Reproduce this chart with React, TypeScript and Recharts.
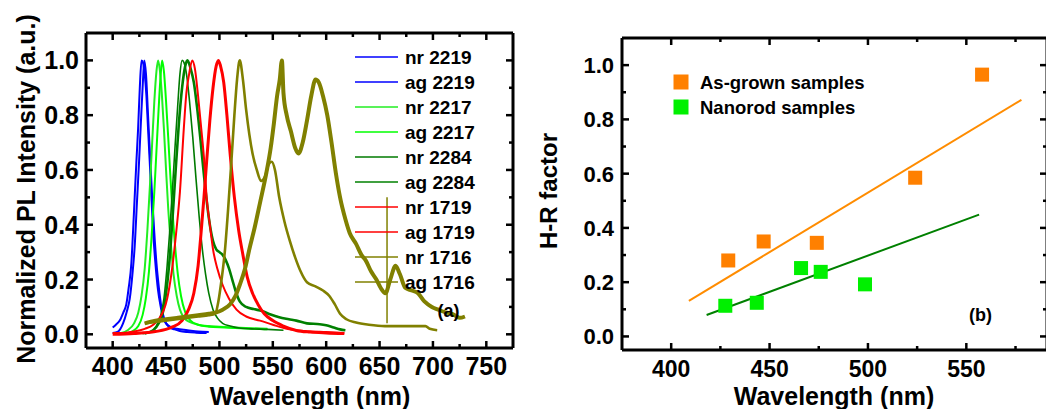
import React from 'react';
import {
  LineChart,
  Line,
  XAxis,
  YAxis,
  ReferenceLine,
  Legend,
  ComposedChart,
  Scatter,
} from 'recharts';

type Pt = [number, number];

// ---------- Panel (a): normalized PL spectra (wavelength nm, intensity) ----------
const nr2219: Pt[] = [
  [400, 0.025], [403, 0.035], [406.6, 0.05], [410, 0.08], [412.8, 0.11], [415, 0.17],
  [417.5, 0.26], [419, 0.37], [420.6, 0.5], [422.2, 0.63], [423.8, 0.75], [425.4, 0.9],
  [427, 1.0], [428.5, 0.99], [430, 0.95], [431.6, 0.87], [433, 0.76], [434.7, 0.63],
  [436.3, 0.5], [437.8, 0.38], [440, 0.26], [442.5, 0.16], [445, 0.1], [447.2, 0.06],
  [450, 0.04], [453.4, 0.025], [458, 0.018], [462.8, 0.012], [470, 0.008], [478, 0.006],
  [488, 0.005],
];
const ag2219: Pt[] = [
  [400, 0.005], [405, 0.01], [409.7, 0.04], [413, 0.08], [416, 0.13], [418.5, 0.22],
  [420.6, 0.32], [422.7, 0.48], [424.7, 0.63], [426.5, 0.78], [428.4, 0.93], [429.6, 1.0],
  [431.2, 0.95], [433, 0.81], [435, 0.65], [437, 0.5], [439, 0.37], [441, 0.26],
  [443.3, 0.17], [445.6, 0.1], [448, 0.06], [450, 0.04], [455, 0.025], [460, 0.02],
  [470, 0.015], [480, 0.01], [490, 0.008],
];
const nr2217: Pt[] = [
  [408, 0.005], [414, 0.015], [420, 0.04], [424, 0.08], [427, 0.14], [430, 0.24],
  [432.5, 0.38], [435, 0.55], [437, 0.7], [439, 0.85], [441, 0.96], [442.5, 1.0],
  [444, 0.97], [446, 0.88], [448, 0.75], [450, 0.6], [452, 0.46], [454.5, 0.33],
  [457, 0.22], [460, 0.14], [463, 0.09], [467, 0.06], [472, 0.045], [480, 0.035],
  [490, 0.03], [500, 0.028], [515, 0.025], [530, 0.022], [545, 0.02],
];
const ag2217: Pt[] = [
  [412, 0.002], [418, 0.01], [424, 0.03], [428, 0.07], [431, 0.13], [434, 0.23],
  [436.5, 0.36], [439, 0.52], [441, 0.67], [443, 0.82], [445, 0.95], [446.3, 1.0],
  [448, 0.96], [450, 0.85], [452, 0.72], [454, 0.58], [456, 0.45], [458.5, 0.32],
  [461, 0.22], [464, 0.14], [468, 0.08], [473, 0.05], [480, 0.035], [490, 0.028],
  [505, 0.025], [520, 0.022], [535, 0.02], [545, 0.018],
];
const nr2284: Pt[] = [
  [428, 0.002], [436, 0.01], [441, 0.03], [445, 0.07], [448, 0.13], [451, 0.25],
  [453.5, 0.38], [456, 0.53], [458.5, 0.69], [461, 0.84], [463, 0.95], [465, 1.0],
  [467, 0.99], [469.5, 0.94], [472, 0.85], [475, 0.72], [478, 0.57], [481, 0.43],
  [484, 0.31], [487, 0.22], [490, 0.15], [494, 0.09], [498, 0.06], [503, 0.04],
  [510, 0.03], [520, 0.022], [530, 0.02], [545, 0.018], [560, 0.015],
];
const ag2284: Pt[] = [
  [430, 0.003], [438, 0.015], [443, 0.04], [447, 0.08], [450, 0.15], [453, 0.26],
  [456, 0.42], [459, 0.6], [462, 0.77], [465, 0.9], [468, 0.98], [470, 1.0],
  [473, 0.97], [476, 0.92], [479, 0.83], [482, 0.72], [485, 0.6], [488, 0.49],
  [491, 0.4], [494, 0.34], [497, 0.31], [500, 0.3], [503, 0.29], [506, 0.27],
  [509, 0.24], [512, 0.2], [515, 0.16], [519, 0.12], [525, 0.1], [532, 0.092],
  [540, 0.085], [548, 0.072], [556, 0.062], [565, 0.055], [572, 0.05], [582, 0.04],
  [594, 0.037], [600, 0.033], [607, 0.025], [613, 0.018], [618, 0.015],
];
const nr1719: Pt[] = [
  [400, 0.005], [410, 0.005], [420, 0.01], [430, 0.02], [438, 0.035], [444, 0.06],
  [448, 0.09], [451, 0.13], [453, 0.17], [456, 0.25], [459.7, 0.38], [463, 0.52],
  [466.6, 0.75], [469, 0.88], [471.6, 0.95], [474.5, 1.0], [477, 0.97], [480, 0.87],
  [483, 0.75], [486, 0.62], [488, 0.5], [491, 0.4], [494, 0.31], [498, 0.24],
  [503, 0.18], [509, 0.13], [516, 0.09], [525, 0.065], [538, 0.05], [550, 0.035],
  [563, 0.02], [580, 0.012], [600, 0.008], [617, 0.005],
];
const ag1719: Pt[] = [
  [400, 0.0], [420, 0.003], [440, 0.01], [455, 0.025], [465, 0.05], [471, 0.09],
  [476, 0.15], [480, 0.25], [483, 0.38], [485.5, 0.5], [488, 0.63], [491, 0.78],
  [494, 0.9], [497, 0.98], [499, 1.0], [501, 0.98], [504, 0.92], [507, 0.8],
  [510, 0.66], [514, 0.5], [518, 0.38], [522, 0.29], [526, 0.21], [531, 0.15],
  [536, 0.11], [542, 0.075], [550, 0.05], [560, 0.03], [572, 0.014], [585, 0.008],
  [600, 0.005], [617, 0.003],
];
const nr1716: Pt[] = [
  [430, 0.04], [440, 0.045], [450, 0.05], [460, 0.055], [470, 0.06], [480, 0.065],
  [490, 0.07], [496, 0.075], [499, 0.12], [502, 0.2], [505, 0.3], [508, 0.45],
  [511, 0.62], [514, 0.8], [516.5, 0.93], [519, 1.0], [522, 0.93], [525, 0.82],
  [528, 0.73], [531, 0.66], [535, 0.6], [539, 0.56], [543, 0.58], [546, 0.62],
  [549, 0.63], [552, 0.6], [556, 0.5], [561, 0.41], [566, 0.34], [571, 0.28],
  [576, 0.23], [582, 0.19], [590, 0.175], [597, 0.16], [603, 0.14], [608, 0.11],
  [613, 0.075], [619, 0.055], [628, 0.043], [640, 0.035], [655, 0.03], [670, 0.03],
  [685, 0.03], [693, 0.03], [697, 0.02], [704, 0.015],
];
const ag1716: Pt[] = [
  [430, 0.04], [440, 0.05], [450, 0.055], [460, 0.06], [470, 0.065], [480, 0.07],
  [490, 0.075], [497, 0.08], [503, 0.09], [510, 0.11], [515, 0.14], [519, 0.18],
  [524, 0.24], [528, 0.31], [533, 0.39], [538, 0.48], [544, 0.59], [548, 0.68],
  [551, 0.77], [554, 0.87], [556.5, 0.93], [558.5, 1.0], [560, 0.88], [563, 0.8],
  [567, 0.74], [571, 0.68], [574, 0.66], [578, 0.7], [582, 0.78], [586, 0.87],
  [590, 0.93], [593, 0.92], [597, 0.87], [601, 0.8], [605, 0.7], [609, 0.59],
  [613, 0.5], [618, 0.42], [622, 0.37], [628, 0.33], [633, 0.29], [637, 0.27],
  [642, 0.23], [647, 0.2], [651, 0.17], [655.5, 0.15], [660, 0.2], [665, 0.25],
  [669, 0.22], [674, 0.17], [680, 0.16], [686, 0.15], [692, 0.12], [699, 0.1],
  [705, 0.09], [712, 0.08], [718, 0.075], [725, 0.06], [730, 0.065],
];
// vertical olive artifact line
const artifactSegment: Pt[] = [[657, 0.5], [657, 0.04]];

const specXTicks = [400, 425, 450, 475, 500, 525, 550, 575, 600, 625, 650, 675, 700, 725, 750];
const specYTicks = [0, 0.1, 0.2, 0.3, 0.4, 0.5, 0.6, 0.7, 0.8, 0.9, 1.0];

// ---------- Panel (b): H-R factor ----------
const asGrownWl = [429, 447, 474, 524, 558];
const asGrownHR = [0.28, 0.35, 0.345, 0.585, 0.965];
const nanorodWl = [427.5, 443.5, 466, 476, 498.5];
const nanorodHR = [0.113, 0.124, 0.252, 0.238, 0.192];
const asGrownFitWl = [409, 578];
const asGrownFitHR = [0.131, 0.872];
const nanorodFitWl = [418, 556.5];
const nanorodFitHR = [0.079, 0.449];

const hrXTicks = [400, 425, 450, 475, 500, 525, 550, 575];
const hrYTicks = [0, 0.1, 0.2, 0.3, 0.4, 0.5, 0.6, 0.7, 0.8, 0.9, 1.0];

const spectra = [
  { name: 'nr 2219', color: '#0000ff', width: 2, pts: nr2219 },
  { name: 'ag 2219', color: '#0000ff', width: 2, pts: ag2219 },
  { name: 'nr 2217', color: '#22ee22', width: 2, pts: nr2217 },
  { name: 'ag 2217', color: '#00ff00', width: 2, pts: ag2217 },
  { name: 'nr 2284', color: '#007a00', width: 1.6, pts: nr2284 },
  { name: 'ag 2284', color: '#008000', width: 2.6, pts: ag2284 },
  { name: 'nr 1719', color: '#ff0000', width: 2, pts: nr1719 },
  { name: 'ag 1719', color: '#ff0000', width: 3, pts: ag1719 },
  { name: 'nr 1716', color: '#808000', width: 2.6, pts: nr1716 },
  { name: 'ag 1716', color: '#808000', width: 4, pts: ag1716 },
];

const FONT = '"Liberation Sans", Arial, Helvetica, sans-serif';
const toXY = (p: Pt[]) => p.map(([x, y]) => ({ x, y }));
const zip = (xs: number[], ys: number[]) => xs.map((x, i) => ({ x, y: ys[i] }));
const isMajor = (v: number, step: number) => Math.abs(v / step - Math.round(v / step)) < 1e-6;

const bottomTick = (step: number, fontSize: number, dy: number) => (props: any) => {
  const { x, y, payload } = props;
  const v = payload.value;
  const major = isMajor(v, step);
  return (
    <g>
      <line x1={x} x2={x} y1={y} y2={y - (major ? 7 : 4)} stroke="#000" strokeWidth={2.5} />
      {major && (
        <text x={x} y={y + dy} textAnchor="middle" fontSize={fontSize} fontWeight="bold" fontFamily={FONT} fill="#000">
          {String(v)}
        </text>
      )}
    </g>
  );
};
const topTick = (step: number) => (props: any) => {
  const { x, y, payload } = props;
  const major = isMajor(payload.value, step);
  return <line x1={x} x2={x} y1={y} y2={y + (major ? 7 : 4)} stroke="#000" strokeWidth={2.5} />;
};
const leftTick = (fontSize: number, dx: number, dy: number) => (props: any) => {
  const { x, y, payload } = props;
  const v = payload.value;
  const major = isMajor(v, 0.2);
  return (
    <g>
      <line x1={x} x2={x + (major ? 7 : 4)} y1={y} y2={y} stroke="#000" strokeWidth={2.5} />
      {major && (
        <text x={x - dx} y={y + dy} textAnchor="end" fontSize={fontSize} fontWeight="bold" fontFamily={FONT} fill="#000">
          {v.toFixed(1)}
        </text>
      )}
    </g>
  );
};
const rightTick = (props: any) => {
  const { x, y, payload } = props;
  const major = isMajor(payload.value, 0.2);
  return <line x1={x} x2={x - (major ? 7 : 4)} y1={y} y2={y} stroke="#000" strokeWidth={2.5} />;
};

const frameLine = { stroke: '#000', strokeWidth: 3 };

const SpectraLegend = () => (
  <svg width={140} height={250}>
    {spectra.map((s, i) => {
      const cy = 13 + 25 * i;
      return (
        <g key={s.name}>
          <line x1={5} x2={48} y1={cy} y2={cy} stroke={s.color} strokeWidth={1.5} />
          <text x={55} y={cy + 7} fontSize={19} fontWeight="bold" fontFamily={FONT} fill="#000">
            {s.name}
          </text>
        </g>
      );
    })}
  </svg>
);

const HRLegend = () => (
  <svg width={220} height={60}>
    <rect x={3.5} y={4.5} width={15} height={15} fill="#ff8000" />
    <text x={30} y={18.5} fontSize={18.5} fontWeight="bold" fontFamily={FONT} fill="#000">As-grown samples</text>
    <rect x={3.5} y={29.5} width={15} height={15} fill="#00f000" />
    <text x={30} y={43.5} fontSize={18.5} fontWeight="bold" fontFamily={FONT} fill="#000">Nanorod samples</text>
  </svg>
);

const squareShape = (color: string) => (p: any) => (
  <rect x={p.cx - 7} y={p.cy - 7} width={14} height={14} fill={color} />
);

export default function App() {
  return (
    <div style={{ position: 'absolute', left: 0, top: 0, width: 1046, height: 409, overflow: 'hidden', background: '#fff', fontFamily: FONT }}>
      <div style={{ position: 'absolute', left: 0, top: 0 }}>
        <LineChart width={530} height={409} margin={{ top: 28, right: 7, bottom: 41, left: 0 }}>
          <XAxis xAxisId="b" type="number" dataKey="x" domain={[375, 775]} allowDataOverflow ticks={specXTicks} interval={0}
            orientation="bottom" height={20} tickSize={0} tickMargin={0} tickLine={false} axisLine={frameLine}
            tick={bottomTick(50, 25, 27)} />
          <XAxis xAxisId="t" type="number" dataKey="x" domain={[375, 775]} allowDataOverflow ticks={specXTicks} interval={0}
            orientation="top" height={5} tickSize={0} tickMargin={0} tickLine={false} axisLine={frameLine}
            tick={topTick(50)} />
          <YAxis yAxisId="l" type="number" dataKey="y" domain={[-0.05, 1.1]} allowDataOverflow ticks={specYTicks} interval={0}
            width={86} tickSize={0} tickMargin={0} tickLine={false} axisLine={frameLine} tick={leftTick(25, 7, 9)} />
          <YAxis yAxisId="r" orientation="right" type="number" domain={[-0.05, 1.1]} allowDataOverflow ticks={specYTicks} interval={0}
            width={10} tickSize={0} tickMargin={0} tickLine={false} axisLine={frameLine} tick={rightTick} />
          {spectra.map((s) => (
            <Line key={s.name} xAxisId="b" yAxisId="l" data={toXY(s.pts)} dataKey="y" name={s.name} type="monotone"
              stroke={s.color} strokeWidth={s.width} dot={false} activeDot={false} isAnimationActive={false} />
          ))}
          <ReferenceLine xAxisId="b" yAxisId="l" stroke="#808000" strokeWidth={1.5}
            segment={artifactSegment.map(([x, y]) => ({ x, y }))} />
          <Legend layout="vertical" align="center" verticalAlign="middle"
            wrapperStyle={{ left: 350, top: 44, width: 140, height: 250 }} content={() => <SpectraLegend />} />
        </LineChart>
      </div>

      <div style={{ position: 'absolute', left: 520, top: 0 }}>
        <ComposedChart width={540} height={409} margin={{ top: 33, right: 8, bottom: 39, left: 0 }}>
          <XAxis xAxisId="b" type="number" dataKey="x" domain={[375, 591]} allowDataOverflow ticks={hrXTicks} interval={0}
            orientation="bottom" height={20} tickSize={0} tickMargin={0} tickLine={false} axisLine={frameLine}
            tick={bottomTick(50, 23, 27)} />
          <XAxis xAxisId="t" type="number" dataKey="x" domain={[375, 591]} allowDataOverflow ticks={hrXTicks} interval={0}
            orientation="top" height={5} tickSize={0} tickMargin={0} tickLine={false} axisLine={frameLine}
            tick={topTick(50)} />
          <YAxis yAxisId="l" type="number" dataKey="y" domain={[-0.05, 1.1]} allowDataOverflow ticks={hrYTicks} interval={0}
            width={102} tickSize={0} tickMargin={0} tickLine={false} axisLine={frameLine} tick={leftTick(22, 8, 8)} />
          <YAxis yAxisId="r" orientation="right" type="number" domain={[-0.05, 1.1]} allowDataOverflow ticks={hrYTicks} interval={0}
            width={5} tickSize={0} tickMargin={0} tickLine={false} axisLine={frameLine} tick={rightTick} />
          <Line xAxisId="b" yAxisId="l" data={zip(asGrownFitWl, asGrownFitHR)} dataKey="y" type="linear" stroke="#ff8c00"
            strokeWidth={2} dot={false} activeDot={false} isAnimationActive={false} />
          <Line xAxisId="b" yAxisId="l" data={zip(nanorodFitWl, nanorodFitHR)} dataKey="y" type="linear" stroke="#008000"
            strokeWidth={2} dot={false} activeDot={false} isAnimationActive={false} />
          <Scatter xAxisId="b" yAxisId="l" name="As-grown samples" data={zip(asGrownWl, asGrownHR)} dataKey="y"
            shape={squareShape('#ff8000')} isAnimationActive={false} />
          <Scatter xAxisId="b" yAxisId="l" name="Nanorod samples" data={zip(nanorodWl, nanorodHR)} dataKey="y"
            shape={squareShape('#00f000')} isAnimationActive={false} />
          <Legend layout="vertical" align="center" verticalAlign="middle"
            wrapperStyle={{ left: 150, top: 70, width: 220, height: 60 }} content={() => <HRLegend />} />
        </ComposedChart>
      </div>

      <svg width={1046} height={409} style={{ position: 'absolute', left: 0, top: 0, pointerEvents: 'none' }}>
        <g fontFamily={FONT} fontWeight="bold" fill="#000">
          <text transform="translate(35,189) rotate(-90)" textAnchor="middle" fontSize={25}>Normalized PL Intensity (a.u.)</text>
          <text x={310} y={405} textAnchor="middle" fontSize={25}>Wavelength (nm)</text>
          <text x={448.5} y={317} textAnchor="middle" fontSize={18}>(a)</text>
          <text transform="translate(557,191) rotate(-90)" textAnchor="middle" fontSize={24}>H-R factor</text>
          <text x={834} y={405} textAnchor="middle" fontSize={25}>Wavelength (nm)</text>
          <text x={980.5} y={321} textAnchor="middle" fontSize={18}>(b)</text>
        </g>
      </svg>
    </div>
  );
}
